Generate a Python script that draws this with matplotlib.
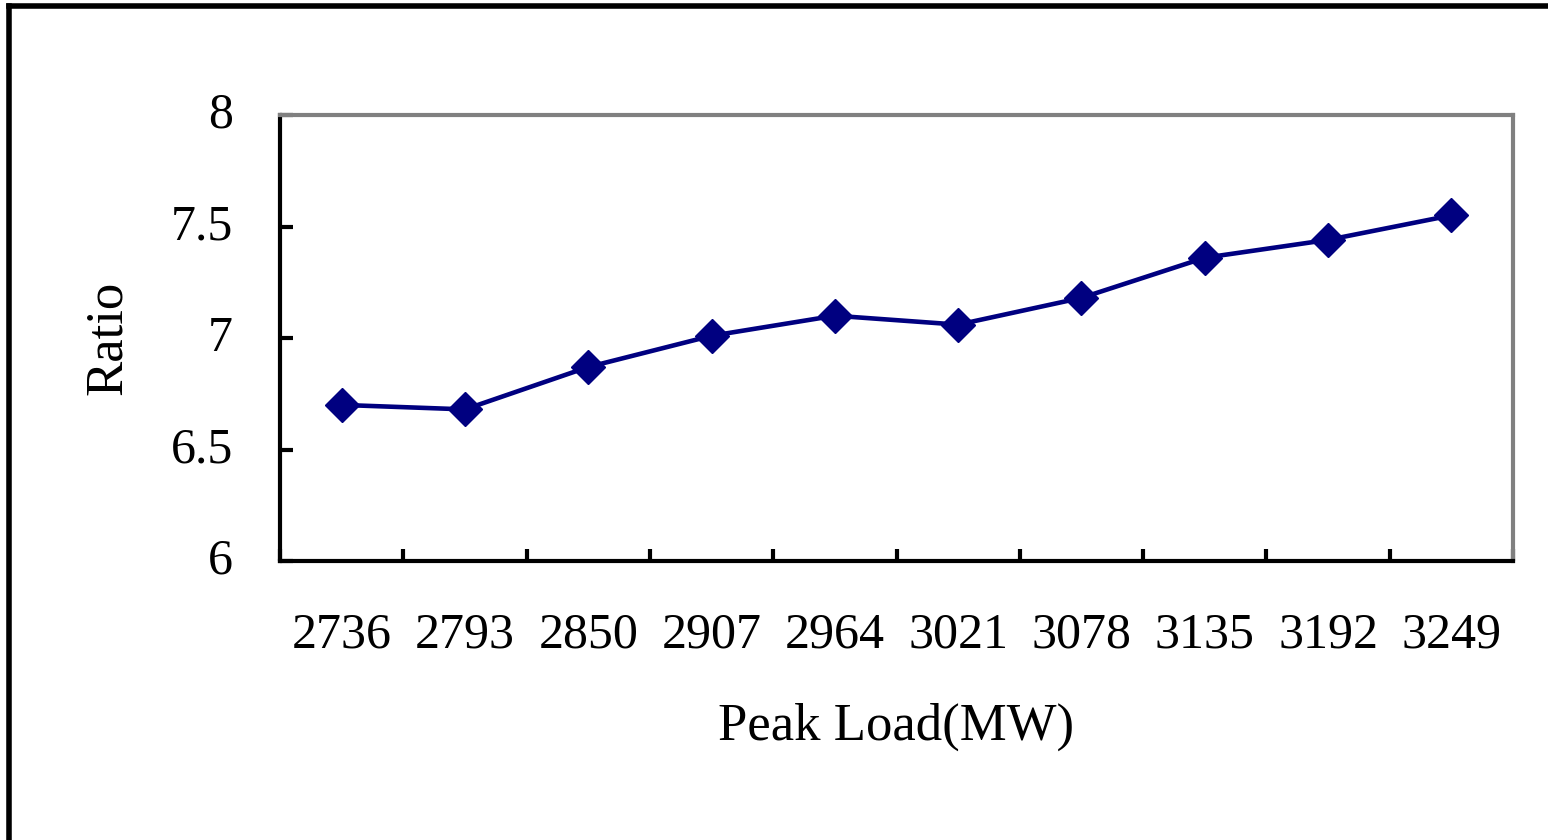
import matplotlib
matplotlib.use("Agg")
import matplotlib.pyplot as plt
import matplotlib.transforms as mtransforms
from matplotlib.lines import Line2D
import numpy as np

# Peak load categories and the corresponding ratio
peak_load = ["2736", "2793", "2850", "2907", "2964", "3021", "3078", "3135", "3192", "3249"]
ratio = [6.70, 6.68, 6.87, 7.01, 7.10, 7.06, 7.18, 7.36, 7.44, 7.55]
y_ticks = [6, 6.5, 7, 7.5, 8]
y_tick_labels = ["6", "6.5", "7", "7.5", "8"]

plt.rcParams["font.family"] = ["Liberation Serif", "DejaVu Serif"]
FS = 36

fig = plt.figure(figsize=(15.48, 8.4), dpi=100)
ax = fig.add_axes([0.1809, 0.3321, 0.7965, 0.5310])

x = np.arange(len(peak_load))
ax.plot(x, ratio, color="#000080", linewidth=3.3, marker="D",
        markersize=17, markerfacecolor="#000080", markeredgecolor="#000080",
        solid_joinstyle="round")

ax.set_xlim(-0.5, len(peak_load) - 0.5)
ax.set_ylim(6, 8)

# Category boundaries carry the tick marks, labels sit at the category centres
ax.set_xticks(np.arange(-0.5, len(peak_load), 1.0))
ax.set_xticklabels([])
ax.set_xticks(x, minor=True)
ax.set_xticklabels(peak_load, minor=True)
ax.tick_params(axis="x", which="major", direction="in", length=9, width=3, color="black")
ax.tick_params(axis="x", which="minor", length=0, pad=36.5, labelsize=FS)

ax.set_yticks(y_ticks)
ax.set_yticklabels(y_tick_labels)
ax.tick_params(axis="y", direction="in", length=9, width=3, color="black",
               pad=34, labelsize=FS)

# Nudge the y tick labels up so the digits sit centred on their ticks
lift = mtransforms.ScaledTranslation(0, 3.5 / 72, fig.dpi_scale_trans)
for lbl in ax.get_yticklabels():
    lbl.set_transform(lbl.get_transform() + lift)

for side in ("left", "bottom"):
    ax.spines[side].set_color("black")
    ax.spines[side].set_linewidth(3)
for side in ("top", "right"):
    ax.spines[side].set_color("#808080")
    ax.spines[side].set_linewidth(3)

ax.set_xlabel("Peak Load(MW)", fontsize=38, labelpad=32)
ax.set_ylabel("Ratio", fontsize=38, labelpad=28)

# Outer frame (top and left edges)
fig.add_artist(Line2D([0.0055, 1.0], [0.9925, 0.9925], transform=fig.transFigure,
                      color="black", linewidth=4, solid_capstyle="projecting"))
fig.add_artist(Line2D([0.0055, 0.0055], [0.0, 0.9925], transform=fig.transFigure,
                      color="black", linewidth=4, solid_capstyle="projecting"))

fig.savefig("out.png", dpi=100, facecolor="white")
